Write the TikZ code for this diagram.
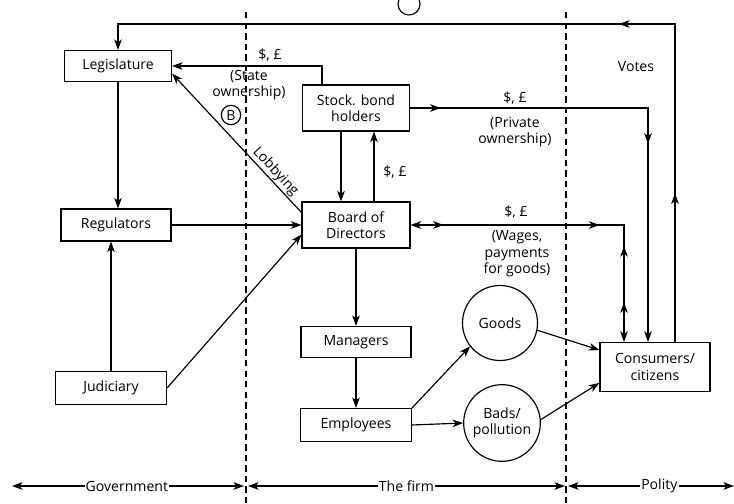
\documentclass[tikz,border=0pt]{standalone}
\usepackage{fontspec}
\setmainfont{Open Sans}
\usepackage{tikz}
\usetikzlibrary{arrows.meta}
\usetikzlibrary{decorations.markings}
\tikzset{>={Stealth[length=9pt,width=6.5pt,inset=2.5pt]}}
\tikzstyle{box} = [rectangle, draw=black, line width=1pt, align=center, inner sep=0pt]
\tikzstyle{blob} = [circle, draw=black, line width=1pt, align=center, inner sep=0pt]
\tikzstyle{flow} = [->, draw=black, line width=1pt]
\tikzstyle{zone} = [draw=black, line width=1pt, dash pattern=on 5.5pt off 3.5pt]
\tikzstyle{tag} = [draw=none, align=center]
\tikzstyle{span} = [<->, draw=black, line width=1pt]
\tikzset{tipat/.style={postaction={decorate, decoration={markings, mark=at position #1 with {\arrow{>}}}}}}
\tikzset{tipback/.style={postaction={decorate, decoration={markings, mark=at position #1 with {\arrowreversed{>}}}}}}

\begin{document}
\begin{tikzpicture}[x=0.03cm, y=-0.03cm, every node/.style={font=\fontsize{12}{14}\selectfont}]
\useasboundingbox (0,0) rectangle (734,503);

% zone borders
\coordinate (zlt) at (246,12);
\coordinate (zlb) at (246,503);
\coordinate (zrt) at (566,12);
\coordinate (zrb) at (566,503);
\draw [zone] (zlt) -- (zlb);
\draw [zone] (zrt) -- (zrb);

% government
\node [box, minimum width=3.21cm, minimum height=0.93cm] (leg) at (118,66) {Legislature};
\node [box, minimum width=3.3cm, minimum height=0.96cm] (reg) at (116,225) {Regulators};
\node [box, minimum width=3.33cm, minimum height=0.99cm] (jud) at (111,388) {Judiciary};

% the firm
\node [box, minimum width=3.21cm, minimum height=1.38cm] (stock) at (356,108) {Stock. bond\\holders};
\node [box, minimum width=3.24cm, minimum height=1.38cm] (board) at (356,225) {Board of\\Directors};
\node [box, minimum width=3.3cm, minimum height=0.93cm] (man) at (356,342) {Managers};
\node [box, minimum width=3.33cm, minimum height=0.99cm] (emp) at (356,425) {Employees};
\node [blob, minimum size=2.25cm] (goods) at (500,323) {Goods};
\node [blob, minimum size=2.3cm] (bads) at (502,423) {Bads/\\pollution};

% polity
\node [box, minimum width=3.3cm, minimum height=1.47cm] (cons) at (655,367) {Consumers/\\citizens};

% circled marks
\node [blob, minimum size=0.66cm] (ca) at (409,4) {};
\node [blob, minimum size=0.58cm] (cb) at (231,115) {B};

% votes loop
\coordinate (vr) at (675,24);
\draw [flow, tipat=0.165, tipat=0.415] (cons.north -| vr) |- (leg.north |- vr) -- (leg.north);
\node [tag] (votes) at (636,67) {Votes};

% state ownership
\coordinate (sv) at (322,67);
\draw [flow] (stock.north -| sv) |- (leg.east);
\node [tag] (so1) at (270,55) {\$, £};
\node [tag] (so2) at (249,85) {(State\\ownership)};

% lobbying
\draw [flow] (board.167) -- (leg.-8) node [pos=0.25, sloped, above, inner sep=1pt] (lob) {Lobbying};

% government to the firm
\draw [flow] (leg.south) -- (leg.south |- reg.north);
\draw [flow] (jud.north) -- (jud.north |- reg.south);
\draw [flow] (reg.east) -- (board.west);
\draw [flow] (jud.east) -- (board.190);

% owners and board
\coordinate (sd) at (341,0);
\coordinate (su) at (374,0);
\draw [flow] (stock.south -| sd) -- (board.north -| sd);
\draw [flow] (board.north -| su) -- (stock.south -| su);
\node [tag] (pay1) at (395,172) {\$, £};

% private ownership
\coordinate (pv) at (648,0);
\draw [flow, tipat=0.065, tipat=0.58] (stock.east) -| (cons.north -| pv);
\node [tag] (po1) at (515,98) {\$, £};
\node [tag] (po2) at (515,132) {(Private\\ownership)};

% wages and payments
\coordinate (wv) at (624,0);
\draw [flow, <->, tipat=0.1, tipat=0.572, tipback=0.71, tipback=0.88] (board.east) -| (cons.north -| wv);
\node [tag] (wa1) at (516,212) {\$, £};
\node [tag] (wa2) at (517,254) {(Wages,\\payments\\for goods)};

% production
\draw [flow] (board.south) -- (man.north);
\draw [flow] (man.south) -- (emp.north);
\draw [flow] (emp.north east) -- (goods.218);
\draw [flow] (emp.east) -- (bads.west);
\draw [flow] (goods.-11) -- (cons.163);
\draw [flow] (bads.5) -- (cons.196);

% spans
\coordinate (g1) at (12,486);
\coordinate (g2) at (244,486);
\coordinate (f1) at (248,486);
\coordinate (f2) at (565,486);
\coordinate (p1) at (568,486);
\coordinate (p2) at (734,486);
\draw [span] (g1) -- (g2) node [pos=0.495, fill=white, inner sep=1pt] (gov) {Government};
\draw [span] (f1) -- (f2) node [pos=0.5, fill=white, inner sep=1pt] (firm) {The firm};
\draw [span] (p1) -- (p2) node [pos=0.55, fill=white, inner sep=1pt] (pol) {Polity};
\end{tikzpicture}
\end{document}
